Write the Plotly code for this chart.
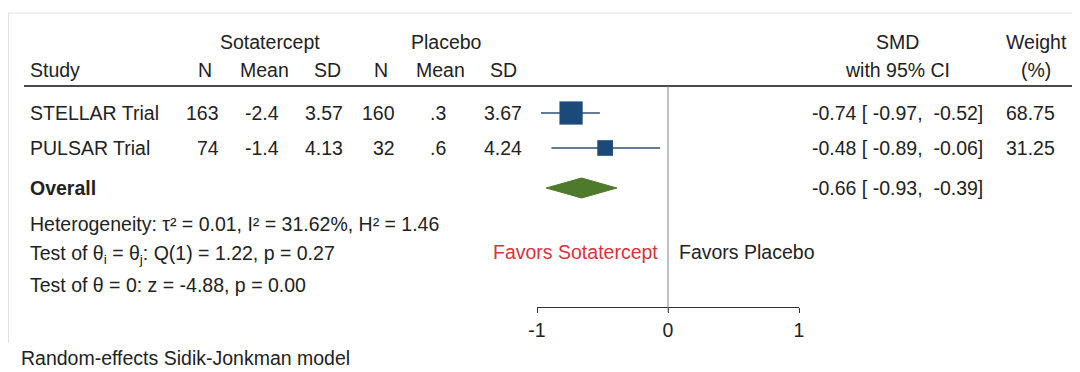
import plotly.graph_objects as go

# ---------------- data ----------------
studies = ["STELLAR Trial", "PULSAR Trial"]
sota_n = [163, 74]
sota_mean = [-2.4, -1.4]
sota_sd = [3.57, 4.13]
plac_n = [160, 32]
plac_mean = [0.3, 0.6]
plac_sd = [3.67, 4.24]
smd = [-0.74, -0.48]
ci_lo = [-0.97, -0.89]
ci_hi = [-0.52, -0.06]
weight = [68.75, 31.25]

overall_label = "Overall"
overall_smd = -0.66
overall_lo = -0.93
overall_hi = -0.39

tau2 = 0.01
i2 = 31.62
h2 = 1.46
q_df = 1
q_stat = 1.22
q_p = 0.27
z_stat = -4.88
z_p = 0.00

axis_ticks = [-1, 0, 1]
model_note = "Random-effects Sidik-Jonkman model"

# ---------------- layout helpers ----------------
# page body has an 8px default margin: figure covers page pixels 8..1080 x 8..372
OX, OY = 8, 8
PAGE_W, PAGE_H = 1080, 372
W, H = PAGE_W - OX, PAGE_H - OY
FONT = "Liberation Sans, Arial, Helvetica, sans-serif"
FS = 19.5
TXT = "#222222"
RED = "#d8333c"
SQ = "#1c4a78"
CI_COL = "#2e4f73"
DIA = "#4e7a2c"


def px(x):
    return (x - OX) / W


def py(y):
    return 1 - (y - OY) / H


def fmt_stata(v):
    s = f"{v:g}"
    if s.startswith("0."):
        s = s[1:]
    elif s.startswith("-0."):
        s = "-" + s[2:]
    return s


annotations = []


def txt(x, y, text, anchor="left", color=TXT, size=FS, bold=False):
    if bold:
        text = f"<b>{text}</b>"
    annotations.append(dict(
        x=px(x), y=py(y), xref="paper", yref="paper", text=text,
        showarrow=False, xanchor=anchor, yanchor="middle",
        font=dict(family=FONT, size=size, color=color),
    ))


# row vertical positions (page pixels)
ROW_Y = [113, 148]
OVERALL_Y = 188
HDR1_Y, HDR2_Y = 42, 70

# column right edges
COL_N1, COL_M1, COL_S1 = 221, 281, 345
COL_N2, COL_M2, COL_S2 = 397, 448, 524
SMD_X = 810
W_X = 1057

# header
txt(270, HDR1_Y, "Sotatercept", "center")
txt(446, HDR1_Y, "Placebo", "center")
txt(897, HDR1_Y, "SMD", "center")
txt(1036, HDR1_Y, "Weight", "center")
txt(28, HDR2_Y, "Study")
txt(214, HDR2_Y, "N", "right")
txt(291, HDR2_Y, "Mean", "right")
txt(343, HDR2_Y, "SD", "right")
txt(390, HDR2_Y, "N", "right")
txt(467, HDR2_Y, "Mean", "right")
txt(519, HDR2_Y, "SD", "right")
txt(897, HDR2_Y, "with 95% CI", "center")
txt(1036, HDR2_Y, "(%)", "center")

for i, name in enumerate(studies):
    y = ROW_Y[i]
    txt(28, y, name)
    txt(COL_N1, y, str(sota_n[i]), "right")
    txt(COL_M1, y, fmt_stata(sota_mean[i]), "right")
    txt(COL_S1, y, f"{sota_sd[i]:.2f}", "right")
    txt(COL_N2, y, str(plac_n[i]), "right")
    txt(COL_M2, y, fmt_stata(plac_mean[i]), "right")
    txt(COL_S2, y, f"{plac_sd[i]:.2f}", "right")
    txt(SMD_X, y, f"{smd[i]:.2f} [ {ci_lo[i]:.2f},  {ci_hi[i]:.2f}]")
    txt(W_X, y, f"{weight[i]:.2f}", "right")

txt(28, OVERALL_Y, overall_label, bold=True)
txt(SMD_X, OVERALL_Y, f"{overall_smd:.2f} [ {overall_lo:.2f},  {overall_hi:.2f}]")

txt(28, 224, f"Heterogeneity: τ² = {tau2:.2f}, I² = {i2:.2f}%, H² = {h2:.2f}")
txt(28, 254, f"Test of θ<sub>i</sub> = θ<sub>j</sub>: Q({q_df}) = {q_stat:.2f}, p = {q_p:.2f}")
txt(28, 285, f"Test of θ = 0: z = {z_stat:.2f}, p = {z_p:.2f}")
txt(660, 252, "Favors Sotatercept", "right", color=RED)
txt(677, 252, "Favors Placebo")
txt(19, 358, model_note)

# ---------------- traces ----------------
fig = go.Figure()

# CI lines
for i in range(len(studies)):
    fig.add_trace(go.Scatter(
        x=[ci_lo[i], ci_hi[i]], y=[ROW_Y[i], ROW_Y[i]], mode="lines",
        line=dict(color=CI_COL, width=1.5), hoverinfo="skip", showlegend=False,
    ))

# weighted squares
fig.add_trace(go.Scatter(
    x=smd, y=ROW_Y, mode="markers",
    marker=dict(symbol="square", color=SQ, opacity=1,
                size=[2.8 * w ** 0.5 for w in weight], line=dict(width=0)),
    showlegend=False, hoverinfo="skip",
))

# overall diamond
DH = 10
fig.add_trace(go.Scatter(
    x=[overall_lo, overall_smd, overall_hi, overall_smd, overall_lo],
    y=[OVERALL_Y, OVERALL_Y - DH, OVERALL_Y, OVERALL_Y + DH, OVERALL_Y],
    mode="lines", fill="toself", fillcolor=DIA, line=dict(color=DIA, width=1),
    showlegend=False, hoverinfo="skip",
))

shapes = [
    # light frame
    dict(type="line", xref="paper", yref="paper", x0=px(8.5), x1=px(8.5), y0=py(343), y1=py(13),
         line=dict(color="#e2e2e2", width=1)),
    dict(type="line", xref="paper", yref="paper", x0=px(8.5), x1=1, y0=py(13), y1=py(13),
         line=dict(color="#e2e2e2", width=1)),
    # header rule
    dict(type="line", xref="paper", yref="paper", x0=px(24), x1=px(1078), y0=py(86), y1=py(86),
         line=dict(color="#4a4a4a", width=2)),
    # no-effect line
    dict(type="line", xref="x", yref="y", x0=0, x1=0, y0=86, y1=312,
         line=dict(color="#808080", width=1)),
]

fig.update_layout(
    width=W, height=H,
    margin=dict(l=0, r=0, t=0, b=0),
    paper_bgcolor="white", plot_bgcolor="rgba(0,0,0,0)",
    annotations=annotations, shapes=shapes,
    xaxis=dict(domain=[px(537), px(799)], range=[-1, 1], anchor="free", position=py(307),
               showline=True, linecolor="#333333", linewidth=1.3, showgrid=False, zeroline=False,
               ticks="outside", ticklen=5, tickcolor="#333333", tickwidth=1.3,
               tickvals=axis_ticks, ticktext=[str(t) for t in axis_ticks],
               tickfont=dict(family=FONT, size=FS, color=TXT), automargin=False, fixedrange=True),
    yaxis=dict(domain=[0, 1], range=[PAGE_H, OY], visible=False, automargin=False, fixedrange=True),
    font=dict(family=FONT, size=FS, color=TXT),
)

fig.write_html("out.html")
